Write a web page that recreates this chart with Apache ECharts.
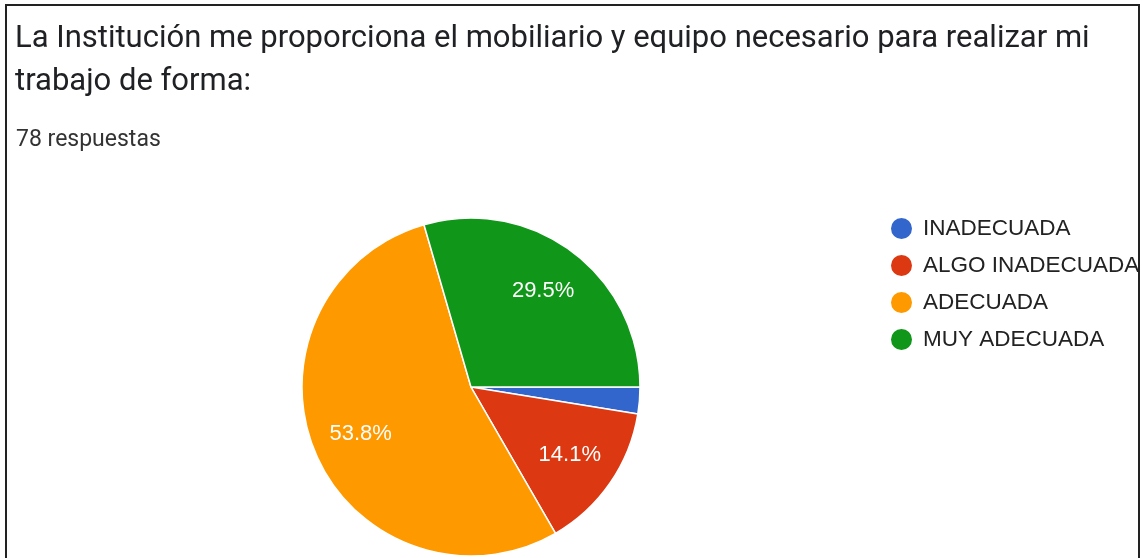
<!DOCTYPE html>
<html><head><meta charset="utf-8">
<script src="https://cdn.jsdelivr.net/npm/echarts@6/dist/echarts.min.js"></script>
<style>
html,body{margin:0;padding:0;background:#fff;}
#frame{position:absolute;left:5px;top:4px;width:1131px;height:560px;border:2px solid #222;border-bottom:none;}
#chart{position:absolute;left:0;top:0;width:1142px;height:558px;}
</style></head>
<body>
<div id="frame"></div>
<div id="chart"></div>
<script>
const titleLines = ['La Institución me proporciona el mobiliario y equipo necesario para realizar mi', 'trabajo de forma:'];
const subtitle = '78 respuestas';
const categories = ['INADECUADA', 'ALGO INADECUADA', 'ADECUADA', 'MUY ADECUADA'];
const counts = [2, 11, 42, 23];
const colors = ['#3366cc', '#dc3912', '#ff9900', '#109618'];
const total = counts.reduce((a, b) => a + b, 0);

const chart = echarts.init(document.getElementById('chart'), null, {renderer: 'canvas'});
const sliceData = categories.map((c, i) => ({name: c, value: counts[i], itemStyle: {color: colors[i]}}));
const labelData = categories.map((c, i) => ({
  name: c, value: counts[i],
  itemStyle: {color: 'rgba(0,0,0,0)'},
  label: {show: counts[i] / total >= 0.05}
}));
chart.setOption({
  animation: false,
  title: [
    {text: titleLines.join('\n'), left: 10, top: 13,
     textStyle: {fontFamily: 'Roboto', fontSize: 31, fontWeight: 'normal', color: '#202124', lineHeight: 43}},
    {text: subtitle, left: 11, top: 124,
     textStyle: {fontFamily: 'Roboto', fontSize: 23, fontWeight: 'normal', color: '#333'}}
  ],
  legend: {
    orient: 'vertical', left: 884, top: 211, icon: 'circle',
    itemWidth: 23, itemHeight: 23, itemGap: 12,
    data: categories,
    textStyle: {fontFamily: 'Liberation Sans', fontSize: 22.5, lineHeight: 23, color: '#222', padding: [0, 0, 0, 5]}
  },
  series: [
    {type: 'pie', center: [471, 387], radius: [0, 169], startAngle: 0, clockwise: true,
     label: {show: false}, labelLine: {show: false},
     itemStyle: {borderColor: '#fff', borderWidth: 1.5},
     emphasis: {disabled: true}, data: sliceData},
    {type: 'pie', center: [471, 387], radius: [0, 234], startAngle: 0, clockwise: true, silent: true,
     legendHoverLink: false,
     label: {position: 'inside', formatter: p => (p.value / total * 100).toFixed(1) + '%',
             fontFamily: 'Liberation Sans', fontSize: 22, color: '#fff'},
     labelLine: {show: false}, emphasis: {disabled: true}, data: labelData}
  ]
});
</script>
</body></html>
